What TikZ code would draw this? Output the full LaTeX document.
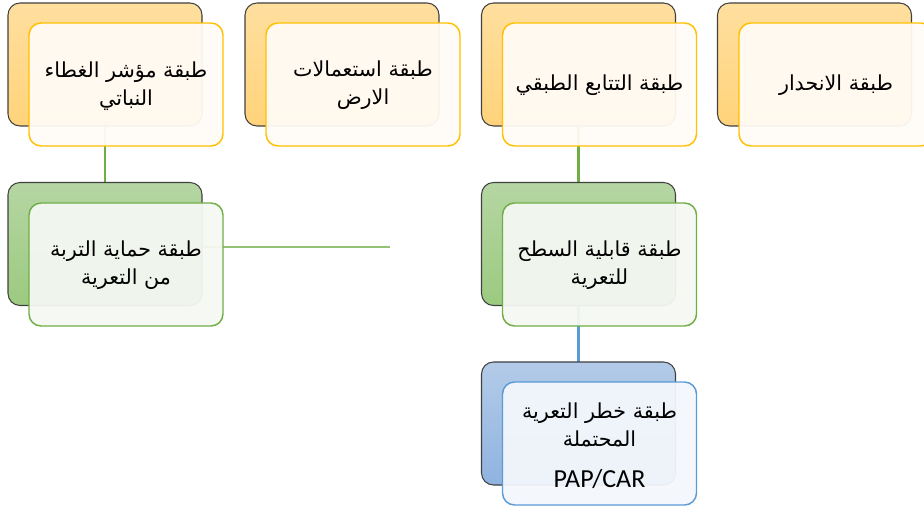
\documentclass[tikz,border=0pt]{standalone}
\usepackage{fontspec}
\TeXXeTstate=1
\newfontfamily\arabicfont[Script=Arabic]{DejaVu Sans}
\newfontfamily\latinfont{Carlito}
\newcommand{\arl}[1]{{\arabicfont\beginR #1\endR}}
\definecolor{orTop}{HTML}{FFDF9F}
\definecolor{orBot}{HTML}{FFD37A}
\definecolor{orEdge}{HTML}{FFC000}
\definecolor{orFront}{HTML}{FFFBF5}
\definecolor{grTop}{HTML}{B5D6A3}
\definecolor{grBot}{HTML}{9CCA80}
\definecolor{grEdge}{HTML}{70AD47}
\definecolor{grFront}{HTML}{F4F8F2}
\definecolor{blTop}{HTML}{B3CBE8}
\definecolor{blBot}{HTML}{8FB3E0}
\definecolor{blEdge}{HTML}{5B9BD5}
\definecolor{blFront}{HTML}{F3F7FC}
\definecolor{backEdge}{HTML}{404040}
\tikzset{
  boxbase/.style={rectangle, rounded corners=9pt, minimum width=145.5pt, minimum height=92.25pt, inner sep=0pt},
  backbox/.style={boxbase, draw=backEdge, line width=0.8pt},
  frontbox/.style={boxbase, line width=1.1pt, fill opacity=0.95},
  boxtext/.style={align=center, inner sep=0pt, font=\fontsize{15.5}{21}\selectfont},
  orback/.style={backbox, top color=orTop, bottom color=orBot},
  grback/.style={backbox, top color=grTop, bottom color=grBot},
  blback/.style={backbox, top color=blTop, bottom color=blBot},
  orfront/.style={frontbox, draw=orEdge, fill=orFront},
  grfront/.style={frontbox, draw=grEdge, fill=grFront},
  blfront/.style={frontbox, draw=blEdge, fill=blFront},
  conn/.style={line width=1.6pt},
}
\begin{document}
\begin{tikzpicture}[x=0.75pt,y=-0.75pt]
\useasboundingbox (0,0) rectangle (924,509);
\coordinate (gend) at (390,247);
\coordinate (c1) at (105,64.5);
\coordinate (c3) at (578.5,64.5);
\coordinate (c5) at (105,244);
\coordinate (c6) at (578.5,244);
\coordinate (c7) at (578.5,423.5);
\coordinate (gstart) at (202,247);
\draw[conn, grEdge] (c1) -- (c5);
\draw[conn, grEdge] (c3) -- (c6);
\draw[conn, blEdge] (c6) -- (c7);
\draw[line width=0.9pt, grEdge!75] (gstart) -- (gend);
% row 1
\node[orback] (b1) at (105,64.5) {};
\node[orfront] (f1) at (126,84.5) {};
\node[boxtext] (t1) at (126,86) {\arl{طبقة مؤشر الغطاء}\\\arl{النباتي}};
\node[orback] (b2) at (342,64.5) {};
\node[orfront] (f2) at (363,84.5) {};
\node[boxtext] (t2) at (363,85) {\arl{طبقة استعمالات}\\\arl{الارض}};
\node[orback] (b3) at (578.5,64.5) {};
\node[orfront] (f3) at (599.5,84.5) {};
\node[boxtext] (t3) at (599.5,85) {\arl{طبقة التتابع الطبقي}};
\node[orback] (b4) at (814.5,64.5) {};
\node[orfront] (f4) at (836,84.5) {};
\node[boxtext] (t4) at (836,85) {\arl{طبقة الانحدار}};
% row 2
\node[grback] (b5) at (105,244) {};
\node[grfront] (f5) at (126,264.5) {};
\node[boxtext] (t5) at (126,265) {\arl{طبقة حماية التربة}\\\arl{من التعرية}};
\node[grback] (b6) at (578.5,244) {};
\node[grfront] (f6) at (599.5,264.5) {};
\node[boxtext] (t6) at (599.5,265) {\arl{طبقة قابلية السطح}\\\arl{للتعرية}};
% row 3
\node[blback] (b7) at (578.5,423.5) {};
\node[blfront] (f7) at (599.5,443.5) {};
\node[boxtext] (t7) at (599.5,446) {\arl{طبقة خطر التعرية}\\\arl{المحتملة}\\[10pt]{\latinfont\fontsize{19.5}{21}\selectfont PAP/CAR}};
\end{tikzpicture}
\end{document}
